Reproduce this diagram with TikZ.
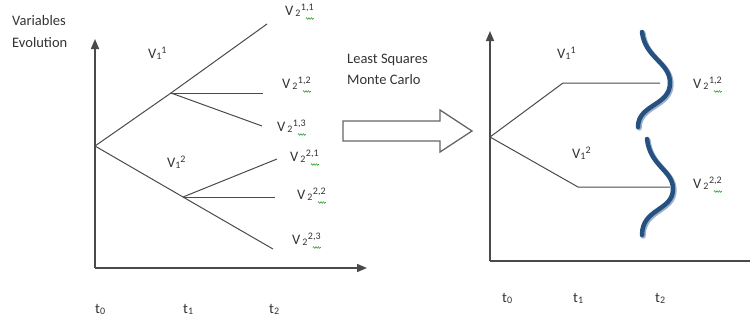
\documentclass[tikz,border=0pt]{standalone}
\usepackage{fontspec}
\setmainfont{Carlito}
\usetikzlibrary{arrows.meta,decorations.pathmorphing}
\definecolor{txt}{HTML}{333333}
\definecolor{ln}{HTML}{4A4A4A}
\definecolor{curveblue}{HTML}{25507F}
\definecolor{curveshadow}{HTML}{9DB2C9}
\definecolor{spell}{HTML}{3BA53B}
\newcommand\mysub[1]{\raisebox{-1.8pt}{\fontsize{10}{10}\selectfont #1}}
\newcommand\mysup[1]{\raisebox{5pt}{\fontsize{10}{10}\selectfont #1}}
\newcommand\Vone[1]{V\mysub{1}\mysup{#1}}
\newcommand\Vtwo[1]{V\kern2pt\mysub{2}\kern0.5pt\mysup{#1}}
\begin{document}
\begin{tikzpicture}[x=1pt,y=-1pt,
  lbl/.style={anchor=base west,inner sep=0pt,text=txt,font=\fontsize{14.5}{17}\selectfont},
  branch/.style={draw=ln,line width=1pt},
  axis/.style={draw=ln,line width=1.6pt},
  axisarrow/.style={axis,-{Triangle[length=10pt,width=8pt]}},
  bluecurve/.style={draw=curveblue,line width=4.5pt,line cap=round},
  shadowcurve/.style={draw=curveshadow,line width=5pt,line cap=round},
  squig/.style={draw=spell,line width=0.6pt,decorate,decoration={snake,segment length=2.4pt,amplitude=0.8pt}},
  bigarrow/.style={draw=gray!80!black,line width=1.3pt,fill=white}]
\useasboundingbox (0,0) rectangle (750,322);

% ---------- left diagram ----------
\coordinate (LO) at (95,268);
\coordinate (LY) at (95,39);
\coordinate (LX) at (367,268);
\draw[axisarrow] (LO) -- (LY);
\draw[axisarrow] (LO) -- (LX);

\coordinate (r) at (95,146);
\coordinate (u) at (171,93);
\coordinate (d) at (183,197);
\coordinate (u1) at (267,24);
\coordinate (u2) at (263,93);
\coordinate (u3) at (262,126);
\coordinate (d1) at (277,159);
\coordinate (d2) at (275,197);
\coordinate (d3) at (273,249);
\draw[branch] (r) -- (u);
\draw[branch] (r) -- (d);
\draw[branch] (u) -- (u1);
\draw[branch] (u) -- (u2);
\draw[branch] (u) -- (u3);
\draw[branch] (d) -- (d1);
\draw[branch] (d) -- (d2);
\draw[branch] (d) -- (d3);

\node[lbl] (var) at (12,25) {Variables};
\node[lbl] (evo) at (12,47) {Evolution};
\node[lbl] (lv11) at (148,58) {\Vone{1}};
\node[lbl] (lv12) at (167,167) {\Vone{2}};
\node[lbl] (w11) at (285,15) {\Vtwo{1,1}};
\node[lbl] (w12) at (282,88) {\Vtwo{1,2}};
\node[lbl] (w13) at (277,131) {\Vtwo{1,3}};
\node[lbl] (w21) at (290,161) {\Vtwo{2,1}};
\node[lbl] (w22) at (297,199) {\Vtwo{2,2}};
\node[lbl] (w23) at (292,244) {\Vtwo{2,3}};
\foreach \n in {w11,w12,w13,w21,w22,w23}
  \draw[squig] ([xshift=-8pt,yshift=-3.5pt]\n.base east) -- ([xshift=0pt,yshift=-3.5pt]\n.base east);
\node[lbl] (lt0) at (95,313) {t\mysub{0}};
\node[lbl] (lt1) at (183,313) {t\mysub{1}};
\node[lbl] (lt2) at (269,313) {t\mysub{2}};

% ---------- middle ----------
\node[lbl] (ls) at (347,63) {Least Squares};
\node[lbl] (mc) at (347,84) {Monte Carlo};
\draw[bigarrow] (343,121) -- (440,121) -- (440,110) -- (472,131) -- (440,152) -- (440,141) -- (343,141) -- cycle;

% ---------- right diagram ----------
\coordinate (RO) at (490,261);
\coordinate (RY) at (490,31);
\coordinate (RX) at (750,261);
\draw[axisarrow] (RO) -- (RY);
\draw[axis] (RO) -- (RX);

\coordinate (rr) at (490,137);
\coordinate (ru) at (563,83);
\coordinate (rd) at (578,187);
\coordinate (ru2) at (660,83);
\coordinate (rd2) at (670,187);
\draw[branch] (rr) -- (ru) -- (ru2);
\draw[branch] (rr) -- (rd) -- (rd2);

\begin{scope}[shift={(1.2,1.2)}]
\draw[shadowcurve] (642,32) .. controls (645,58) and (670,62) .. (670,83) .. controls (670,106) and (638,104) .. (638,127);
\draw[shadowcurve] (647,139) .. controls (650,166) and (673,170) .. (673,189) .. controls (673,211) and (642,208) .. (642,235);
\end{scope}
\draw[bluecurve] (642,32) .. controls (645,58) and (670,62) .. (670,83) .. controls (670,106) and (638,104) .. (638,127);
\draw[bluecurve] (647,139) .. controls (650,166) and (673,170) .. (673,189) .. controls (673,211) and (642,208) .. (642,235);

\node[lbl] (rv11) at (557,58) {\Vone{1}};
\node[lbl] (rv12) at (572,158) {\Vone{2}};
\node[lbl] (rw12) at (693,88) {\Vtwo{1,2}};
\node[lbl] (rw22) at (693,188) {\Vtwo{2,2}};
\foreach \n in {rw12,rw22}
  \draw[squig] ([xshift=-8pt,yshift=-3.5pt]\n.base east) -- ([xshift=0pt,yshift=-3.5pt]\n.base east);
\node[lbl] (rt0) at (502,302) {t\mysub{0}};
\node[lbl] (rt1) at (573,302) {t\mysub{1}};
\node[lbl] (rt2) at (655,302) {t\mysub{2}};
\end{tikzpicture}
\end{document}
